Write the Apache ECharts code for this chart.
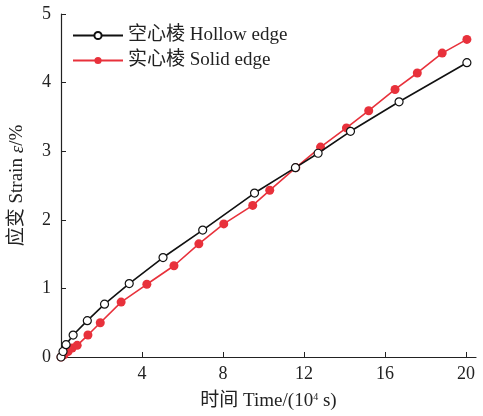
<!DOCTYPE html>
<html><head><meta charset="utf-8">
<script src="https://cdn.jsdelivr.net/npm/echarts@6/dist/echarts.min.js"></script>
<style>html,body{margin:0;padding:0;background:#fff}#c{width:483px;height:416px}</style>
</head><body><div id="c"></div>
<script>
var seriesNames = ['空心棱 Hollow edge', '实心棱 Solid edge'];
var hollowTime = [0, 0.1, 0.25, 0.6, 1.3, 2.15, 3.37, 5.04, 7.0, 9.56, 11.58, 12.7, 14.3, 16.7, 20.05];
var hollowStrain = [0, 0.08, 0.18, 0.32, 0.53, 0.77, 1.07, 1.45, 1.85, 2.39, 2.76, 2.97, 3.29, 3.72, 4.29];
var solidTime = [0, 0.15, 0.35, 0.55, 0.8, 1.33, 1.94, 2.97, 4.24, 5.58, 6.81, 8.04, 9.47, 10.31, 11.6, 12.82, 14.1, 15.2, 16.5, 17.6, 18.83, 20.05];
var solidStrain = [0, 0.03, 0.08, 0.13, 0.17, 0.32, 0.5, 0.8, 1.06, 1.33, 1.65, 1.94, 2.21, 2.43, 2.76, 3.06, 3.34, 3.59, 3.9, 4.14, 4.43, 4.63];
var xTicks = [0, 4, 8, 12, 16, 20];
var xLabels = [4, 8, 12, 16, 20];

function zip(a, b) { return a.map(function (v, i) { return [v, b[i]]; }); }
var font = '"Liberation Serif", "Times New Roman", "Noto Sans CJK SC", serif';
var chart = echarts.init(document.getElementById('c'), null, {renderer: 'canvas'});
chart.setOption({
  animation: false,
  backgroundColor: '#fff',
  textStyle: {fontFamily: font},
  grid: {left: 59, right: 7, top: 14, bottom: 58, containLabel: false},
  legend: {
    orient: 'vertical', left: 67, top: 21, itemWidth: 50, itemHeight: 9, itemGap: 6,
    textStyle: {fontFamily: font, fontSize: 19, color: '#222'},
    data: seriesNames
  },
  xAxis: {
    type: 'value', min: 0, max: 20.5, interval: 4,
    name: '时间 Time/(10{sup|4} s)', nameLocation: 'middle', nameGap: 35,
    nameTextStyle: {fontFamily: font, fontSize: 19, color: '#222',
      rich: {sup: {fontSize: 10, verticalAlign: 'top', padding: [0, 0, 9, 0], fontFamily: font, color: '#222'}}},
    axisLine: {lineStyle: {color: '#222', width: 1.2}},
    axisTick: {inside: true, length: 5, customValues: xTicks, lineStyle: {color: '#222'}},
    axisLabel: {customValues: xLabels, fontFamily: font, fontSize: 18, color: '#222', margin: 8},
    splitLine: {show: false}
  },
  yAxis: {
    type: 'value', min: 0, max: 5, interval: 1,
    name: '应变 Strain {it|ε}/%', nameLocation: 'middle', nameGap: 34,
    nameTextStyle: {fontFamily: font, fontSize: 19, color: '#222',
      rich: {it: {fontStyle: 'italic', fontFamily: font, fontSize: 19, color: '#222'}}},
    axisLine: {show: true, lineStyle: {color: '#222', width: 1.2}},
    axisTick: {show: true, inside: true, length: 5, lineStyle: {color: '#222'}},
    axisLabel: {fontFamily: font, fontSize: 18, color: '#222', margin: 10},
    splitLine: {show: false}
  },
  series: [
    {
      name: seriesNames[0], type: 'line', data: zip(hollowTime, hollowStrain), z: 3,
      symbol: 'circle', symbolSize: 8, showAllSymbol: true, clip: false,
      lineStyle: {color: '#111', width: 1.6},
      itemStyle: {color: '#fff', borderColor: '#111', borderWidth: 1.2}
    },
    {
      name: seriesNames[1], type: 'line', data: zip(solidTime, solidStrain), z: 2,
      symbol: 'circle', symbolSize: 9, showAllSymbol: true, clip: false,
      lineStyle: {color: '#e8313b', width: 1.6},
      itemStyle: {color: '#e8313b', borderColor: '#e8313b', borderWidth: 0}
    }
  ]
});
</script></body></html>
